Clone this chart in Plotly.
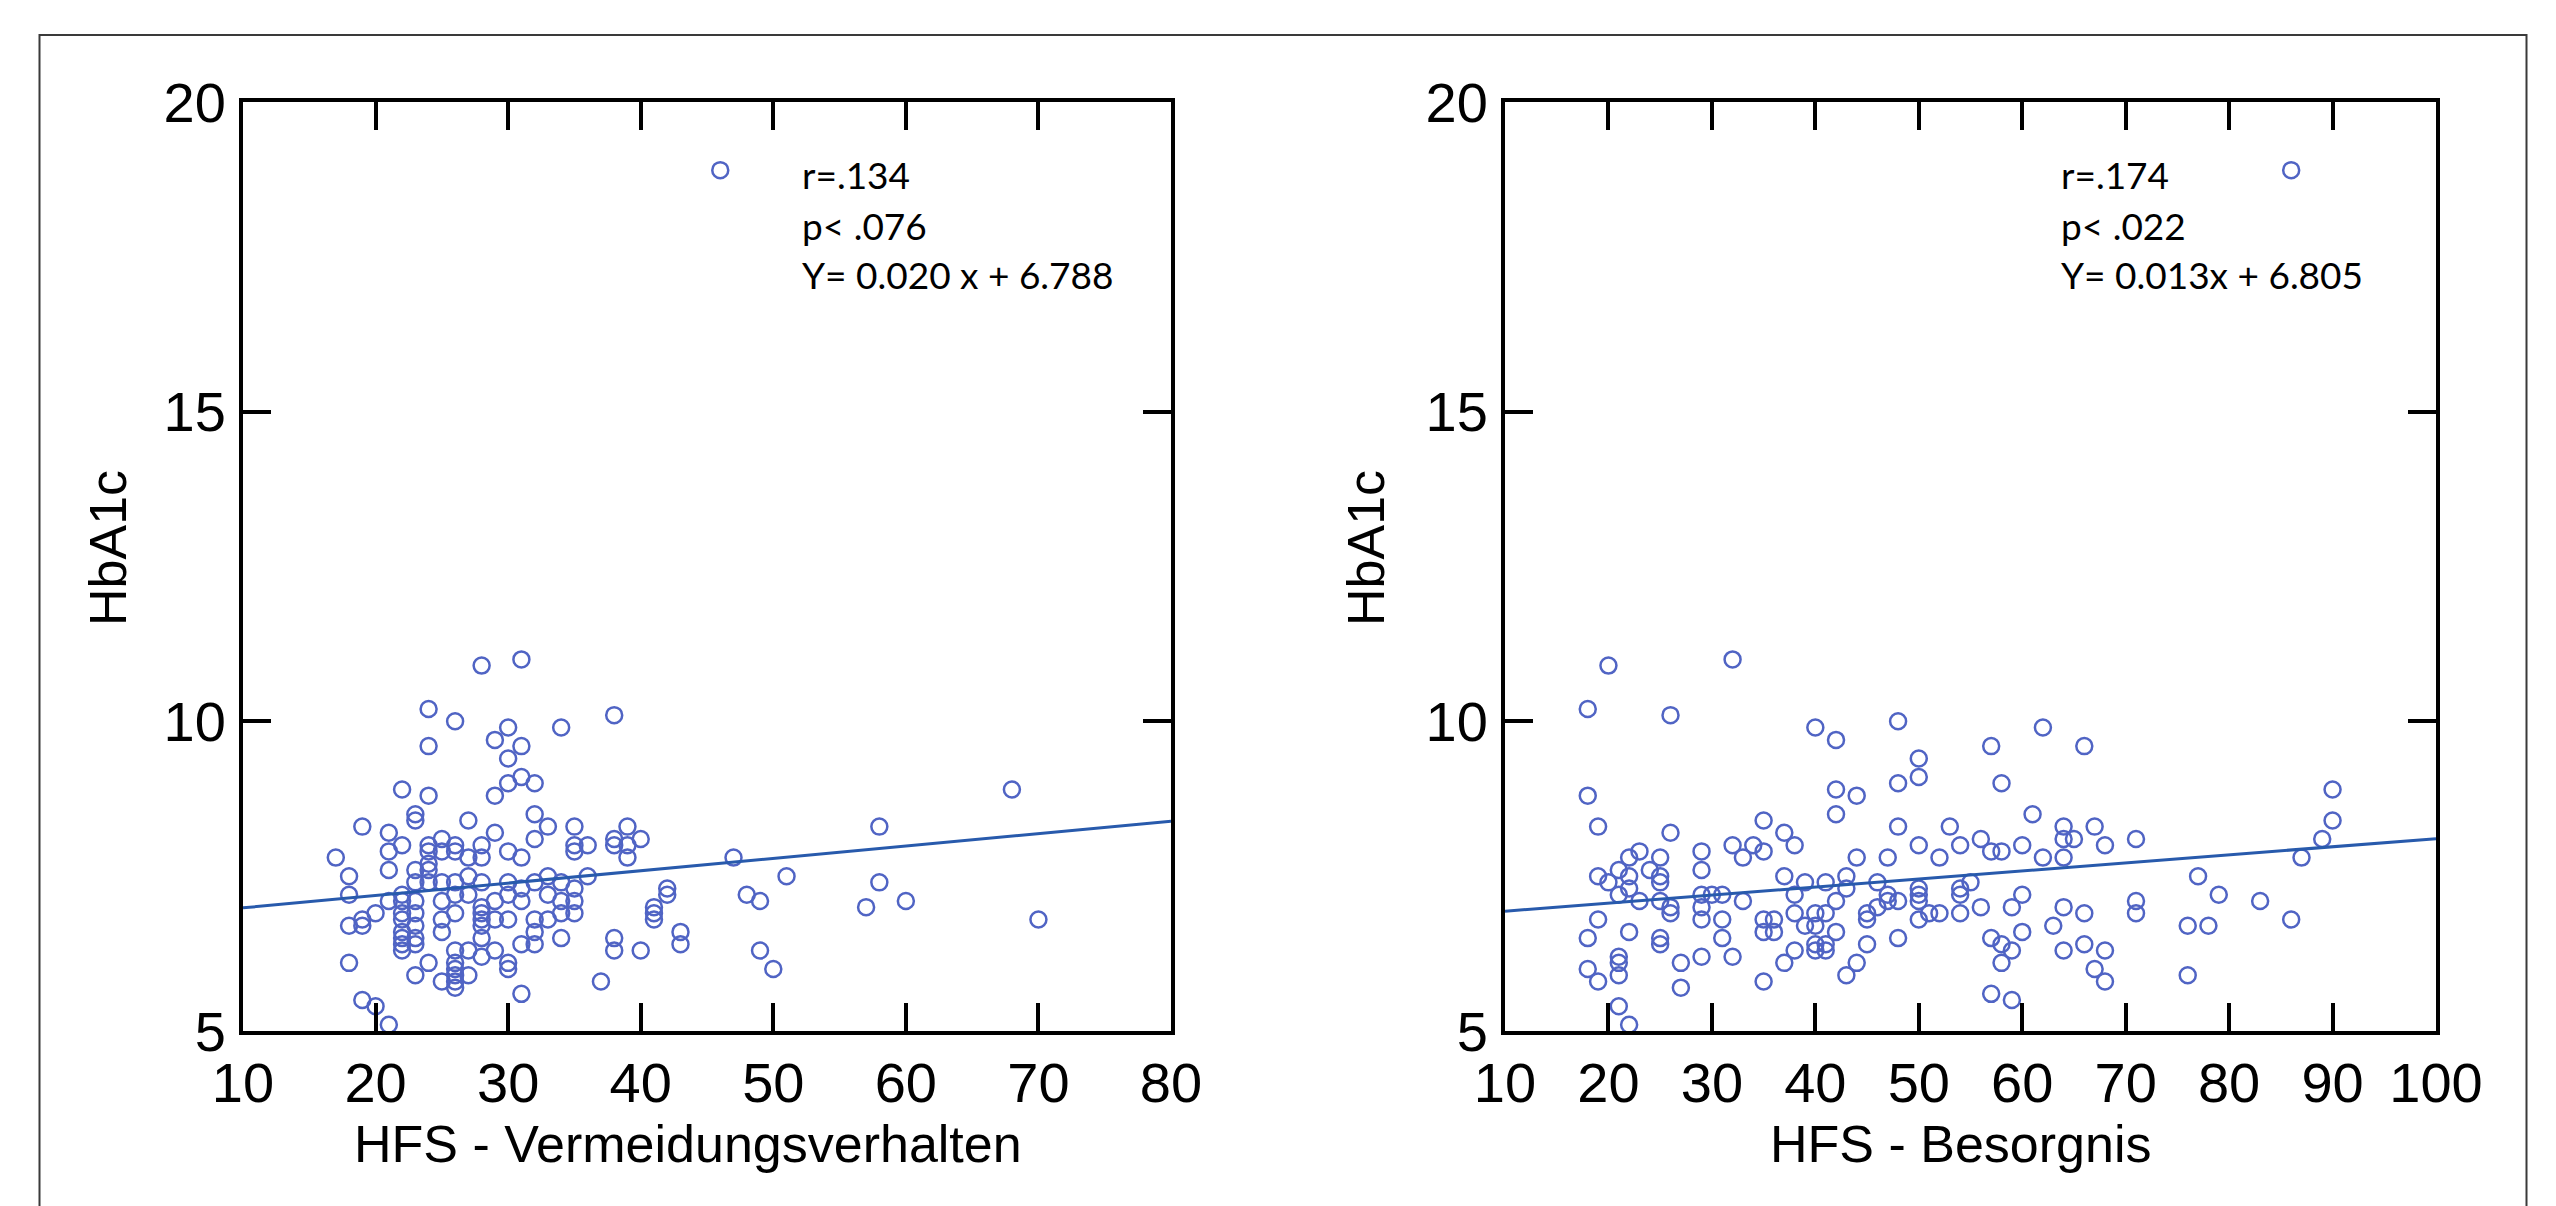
import plotly.graph_objects as go

# ---------------- data ----------------
# Left panel: HFS - Vermeidungsverhalten vs HbA1c
verm_x = [17,
          18, 18, 18, 18,
          19, 19, 19, 19,
          20, 20,
          21, 21, 21, 21, 21,
          22, 22, 22, 22, 22, 22, 22, 22, 22, 22,
          23, 23, 23, 23, 23, 23, 23, 23, 23, 23,
          24, 24, 24, 24, 24, 24, 24, 24, 24,
          25, 25, 25, 25, 25, 25, 25,
          26, 26, 26, 26, 26, 26, 26, 26, 26, 26, 26, 26,
          27, 27, 27, 27, 27, 27,
          28, 28, 28, 28, 28, 28, 28, 28, 28, 28,
          29, 29, 29, 29, 29, 29,
          30, 30, 30, 30, 30, 30, 30, 30, 30,
          31, 31, 31, 31, 31, 31, 31, 31,
          32, 32, 32, 32, 32, 32, 32,
          33, 33, 33, 33,
          34, 34, 34, 34, 34,
          35, 35, 35, 35, 35, 35,
          36, 36,
          37,
          38, 38, 38, 38, 38,
          39, 39, 39,
          40, 40,
          41, 41, 41,
          42, 42,
          43, 43,
          46,
          47,
          48,
          49, 49,
          50,
          51,
          57,
          58, 58,
          60,
          68,
          70]
verm_y = [7.8,
          7.5, 7.2, 6.7, 6.1,
          8.3, 6.8, 6.7, 5.5,
          6.9, 5.4,
          8.2, 7.9, 7.6, 7.1, 5.1,
          8.9, 8.0, 7.2, 7.1, 6.9, 6.8, 6.6, 6.5, 6.4, 6.3,
          8.5, 8.4, 7.6, 7.4, 7.1, 6.9, 6.7, 6.5, 6.4, 5.9,
          10.2, 9.6, 8.8, 8.0, 7.9, 7.7, 7.6, 7.4, 6.1,
          8.1, 7.9, 7.4, 7.1, 6.8, 6.6, 5.8,
          10.0, 8.0, 7.9, 7.4, 7.2, 6.9, 6.3, 6.1, 6.0, 5.9, 5.8, 5.7,
          8.4, 7.8, 7.5, 7.2, 6.3, 5.9,
          10.9, 8.0, 7.8, 7.4, 7.0, 6.9, 6.8, 6.7, 6.5, 6.2,
          9.7, 8.8, 8.2, 7.1, 6.8, 6.3,
          9.9, 9.4, 9.0, 7.9, 7.4, 7.2, 6.8, 6.1, 6.0,
          11.0, 9.6, 9.1, 7.8, 7.3, 7.1, 6.4, 5.6,
          9.0, 8.5, 8.1, 7.4, 6.8, 6.6, 6.4,
          8.3, 7.5, 7.2, 6.8,
          9.9, 7.4, 7.1, 6.9, 6.5,
          8.3, 8.0, 7.9, 7.3, 7.1, 6.9,
          8.0, 7.5,
          5.8,
          10.1, 8.1, 8.0, 6.5, 6.3,
          8.3, 8.0, 7.8,
          8.1, 6.3,
          7.0, 6.9, 6.8,
          7.3, 7.2,
          6.6, 6.4,
          18.9,
          7.8,
          7.2,
          7.1, 6.3,
          6.0,
          7.5,
          7.0,
          8.3, 7.4,
          7.1,
          8.9,
          6.8]

# Right panel: HFS - Besorgnis vs HbA1c
bes_x = [18, 18, 18, 18,
         19, 19, 19, 19,
         20, 20,
         21, 21, 21, 21, 21, 21,
         22, 22, 22, 22, 22,
         23, 23,
         24,
         25, 25, 25, 25, 25, 25,
         26, 26, 26, 26,
         27, 27,
         29, 29, 29, 29, 29, 29,
         30,
         31, 31, 31,
         32, 32, 32,
         33, 33,
         34,
         35, 35, 35, 35, 35,
         36, 36,
         37, 37, 37,
         38, 38, 38, 38,
         39, 39,
         40, 40, 40, 40, 40,
         41, 41, 41, 41,
         42, 42, 42, 42, 42,
         43, 43, 43,
         44, 44, 44,
         45, 45, 45,
         46, 46,
         47, 47, 47,
         48, 48, 48, 48, 48,
         50, 50, 50, 50, 50, 50, 50,
         51,
         52, 52,
         53,
         54, 54, 54, 54,
         55,
         56, 56,
         57, 57, 57, 57,
         58, 58, 58, 58,
         59, 59, 59,
         60, 60, 60,
         61,
         62, 62,
         63,
         64, 64, 64, 64, 64,
         65,
         66, 66, 66,
         67, 67,
         68, 68, 68,
         71, 71, 71,
         76, 76,
         77,
         78,
         79,
         83,
         86, 86,
         87,
         89,
         90, 90]
bes_y = [10.2, 8.8, 6.5, 6.0,
         8.3, 7.5, 6.8, 5.8,
         10.9, 7.4,
         7.6, 7.2, 6.2, 6.1, 5.9, 5.4,
         7.8, 7.5, 7.3, 6.6, 5.1,
         7.9, 7.1,
         7.6,
         7.8, 7.5, 7.4, 7.1, 6.5, 6.4,
         10.1, 8.2, 7.0, 6.9,
         6.1, 5.7,
         7.9, 7.6, 7.2, 7.0, 6.8, 6.2,
         7.2,
         7.2, 6.8, 6.5,
         11.0, 8.0, 6.2,
         7.8, 7.1,
         8.0,
         8.4, 7.9, 6.8, 6.6, 5.8,
         6.8, 6.6,
         8.2, 7.5, 6.1,
         8.0, 7.2, 6.9, 6.3,
         7.4, 6.7,
         9.9, 6.9, 6.7, 6.4, 6.3,
         7.4, 6.9, 6.4, 6.3,
         9.7, 8.9, 8.5, 7.1, 6.6,
         7.5, 7.3, 5.9,
         8.8, 7.8, 6.1,
         6.9, 6.8, 6.4,
         7.4, 7.0,
         7.8, 7.2, 7.1,
         10.0, 9.0, 8.3, 7.1, 6.5,
         9.4, 9.1, 8.0, 7.3, 7.2, 7.1, 6.8,
         6.9,
         7.8, 6.9,
         8.3,
         8.0, 7.3, 7.2, 6.9,
         7.4,
         8.1, 7.0,
         9.6, 7.9, 6.5, 5.6,
         9.0, 7.9, 6.4, 6.1,
         7.0, 6.3, 5.5,
         8.0, 7.2, 6.6,
         8.5,
         9.9, 7.8,
         6.7,
         8.3, 8.1, 7.8, 7.0, 6.3,
         8.1,
         9.6, 6.9, 6.4,
         8.3, 6.0,
         8.0, 6.3, 5.8,
         8.1, 7.1, 6.9,
         6.7, 5.9,
         7.5,
         6.7,
         7.2,
         7.1,
         18.9, 6.8,
         7.8,
         8.1,
         8.9, 8.4]

# regression: [slope, intercept]
verm_fit = [0.020, 6.788]
bes_fit = [0.013, 6.805]

verm_stats = ["r=.134", "p< .076", "Y= 0.020 x + 6.788"]
bes_stats = ["r=.174", "p< .022", "Y= 0.013x + 6.805"]

x_titles = ["HFS - Vermeidungsverhalten", "HFS - Besorgnis"]
y_title = "HbA1c"
verm_xrange = [10, 80]
bes_xrange = [10, 100]
y_range = [5, 20]

# ---------------- style ----------------
W, H = 2556, 1206
OFF = 8  # page body margin
MARK = "rgb(80,100,196)"
LINE = "rgb(40,90,172)"
TICKFONT = dict(family="Liberation Sans, Arial, sans-serif", size=56, color="black")
TITLEFONT = dict(family="Liberation Sans, Arial, sans-serif", size=52, color="black")
STATFONT = dict(family="Lato, 'Open Sans', sans-serif", size=37, color="black")


def px(x):
    return (x - OFF) / W


def py(y):
    return 1 - (y - OFF) / H


fig = go.Figure()

panels = [
    (verm_x, verm_y, verm_fit, verm_xrange, "x", "y"),
    (bes_x, bes_y, bes_fit, bes_xrange, "x2", "y2"),
]
for xs, ys, fit, xr, xa, ya in panels:
    fig.add_trace(go.Scatter(
        x=xs, y=ys, mode="markers", xaxis=xa, yaxis=ya,
        marker=dict(symbol="circle-open", size=16, color=MARK,
                    line=dict(width=2.5, color=MARK)),
        cliponaxis=False, showlegend=False, hoverinfo="x+y"))
    fig.add_trace(go.Scatter(
        x=xr, y=[fit[0] * xr[0] + fit[1], fit[0] * xr[1] + fit[1]],
        mode="lines", xaxis=xa, yaxis=ya,
        line=dict(color=LINE, width=3), showlegend=False))

common = dict(showline=True, linecolor="black", linewidth=4, mirror="ticks",
              ticks="inside", ticklen=28, tickwidth=4, tickcolor="black",
              showgrid=False, zeroline=False, tickfont=TICKFONT, automargin=False)

ydom = [py(1031), py(102)]
fig.update_layout(
    width=W, height=H, autosize=False,
    margin=dict(l=0, r=0, t=0, b=0, pad=0, autoexpand=False),
    paper_bgcolor="white", plot_bgcolor="white",
    xaxis=dict(domain=[px(243), px(1171)], range=verm_xrange, tick0=10, dtick=10,
               anchor="y", ticklabelstandoff=0, **common),
    yaxis=dict(domain=ydom, range=y_range, tick0=5, dtick=5, anchor="x",
               ticklabelstandoff=2, **common),
    xaxis2=dict(domain=[px(1505), px(2436)], range=bes_xrange, tick0=10, dtick=10,
                anchor="y2", ticklabelstandoff=0, **common),
    yaxis2=dict(domain=ydom, range=y_range, tick0=5, dtick=5, anchor="x2",
                ticklabelstandoff=2, **common),
)

annotations = []
# axis titles
for title, cx in zip(x_titles, [688, 1960]):
    annotations.append(dict(text=title, x=px(cx), y=py(1144), xref="paper", yref="paper",
                            xanchor="center", yanchor="middle", showarrow=False,
                            font=TITLEFONT))
for cx in [108, 1366]:
    annotations.append(dict(text=y_title, x=px(cx), y=py(548), xref="paper", yref="paper",
                            xanchor="center", yanchor="middle", showarrow=False,
                            textangle=-90, font=TITLEFONT))
# stats text
for lines, lx in [(verm_stats, 800), (bes_stats, 2059)]:
    for i, t in enumerate(lines):
        annotations.append(dict(text=t, x=px(lx), y=py(175 + 50 * i), xref="paper", yref="paper",
                                xanchor="left", yanchor="middle", showarrow=False,
                                font=STATFONT))
fig.update_layout(annotations=annotations)

# outer frame
fig.add_shape(type="rect", xref="paper", yref="paper",
              x0=px(39.5), x1=px(2526.5), y0=py(1260), y1=py(35),
              line=dict(color="#3a3a3a", width=2), fillcolor="rgba(0,0,0,0)")

fig.write_html("out.html", config={"responsive": False})
